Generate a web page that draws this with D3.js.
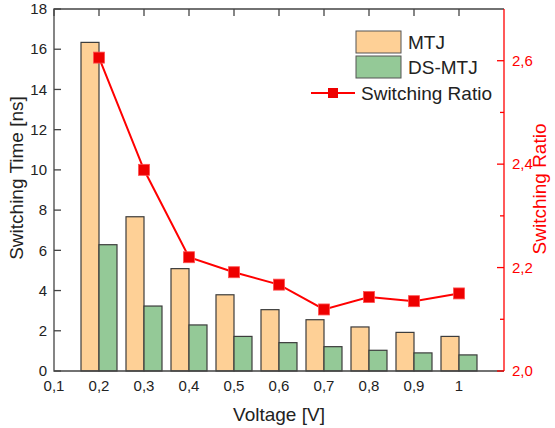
<!DOCTYPE html>
<html>
<head>
<meta charset="utf-8">
<script src="https://cdn.jsdelivr.net/npm/d3@7"></script>
<style>
  body { margin: 0; background: #fff; }
  text { font-family: "Liberation Sans", Arial, sans-serif; }
</style>
</head>
<body>
<svg id="chart" width="555" height="428"></svg>
<script>
// data
const voltages = [0.2, 0.3, 0.4, 0.5, 0.6, 0.7, 0.8, 0.9, 1.0]
const mtj = [16.34, 7.67, 5.09, 3.79, 3.05, 2.55, 2.19, 1.92, 1.72]
const dsMtj = [6.28, 3.23, 2.29, 1.72, 1.41, 1.21, 1.03, 0.90, 0.80]
const ratio = [2.606, 2.389, 2.220, 2.191, 2.167, 2.119, 2.143, 2.135, 2.150]
const xTicks = [0.1, 0.2, 0.3, 0.4, 0.5, 0.6, 0.7, 0.8, 0.9, 1.0]
const xTickLabels = ["0,1", "0,2", "0,3", "0,4", "0,5", "0,6", "0,7", "0,8", "0,9", "1"]
const leftTicks = [0, 2, 4, 6, 8, 10, 12, 14, 16, 18]
const rightTicks = [2.0, 2.2, 2.4, 2.6]
const rightMinor = [2.1, 2.3, 2.5]

const pLeft = 54, pRight = 504, pTop = 9, pBottom = 371
const axisCol = "#444", red = "#ff0000"

const svg = d3.select("#chart")
const x = d3.scaleLinear().domain([0.1, 1.1]).range([pLeft, pRight])
const y = d3.scaleLinear().domain([0, 18]).range([pBottom, pTop])
const y2 = d3.scaleLinear().domain([2.0, 2.7]).range([pBottom, pTop])
const halfW = 0.04

// bars
const g = svg.append("g")
g.selectAll("rect.mtj").data(voltages).join("rect")
    .attr("class", "mtj")
    .attr("x", d => x(d - halfW))
    .attr("width", d => x(d) - x(d - halfW))
    .attr("y", (d, i) => y(mtj[i]))
    .attr("height", (d, i) => y(0) - y(mtj[i]))
    .attr("fill", "#fed096").attr("stroke", "#3c3c3c").attr("stroke-width", 1.2)
g.selectAll("rect.ds").data(voltages).join("rect")
    .attr("class", "ds")
    .attr("x", d => x(d))
    .attr("width", d => x(d + halfW) - x(d))
    .attr("y", (d, i) => y(dsMtj[i]))
    .attr("height", (d, i) => y(0) - y(dsMtj[i]))
    .attr("fill", "#94c997").attr("stroke", "#3c3c3c").attr("stroke-width", 1.2)

// frame: left, bottom, top in dark grey
svg.append("path")
    .attr("d", `M${pRight},${pTop}H${pLeft}V${pBottom}H${pRight}`)
    .attr("fill", "none").attr("stroke", axisCol).attr("stroke-width", 1.3)

// left ticks + labels
svg.append("g").selectAll("line").data(leftTicks).join("line")
    .attr("x1", pLeft).attr("x2", pLeft + 7)
    .attr("y1", d => y(d)).attr("y2", d => y(d))
    .attr("stroke", axisCol).attr("stroke-width", 1.3)
svg.append("g").selectAll("text").data(leftTicks).join("text")
    .attr("x", 47).attr("y", d => y(d))
    .attr("dy", "0.35em").attr("text-anchor", "end")
    .attr("font-size", 15).attr("fill", "#222")
    .text(d => d)

// top ticks, bottom labels
svg.append("g").selectAll("line").data(xTicks).join("line")
    .attr("x1", d => x(d)).attr("x2", d => x(d))
    .attr("y1", pTop).attr("y2", pTop + 7)
    .attr("stroke", axisCol).attr("stroke-width", 1.3)
svg.append("g").selectAll("text").data(xTicks).join("text")
    .attr("x", d => x(d)).attr("y", 391)
    .attr("text-anchor", "middle")
    .attr("font-size", 15).attr("fill", "#222")
    .text((d, i) => xTickLabels[i])

// right axis (red)
svg.append("line")
    .attr("x1", pRight).attr("x2", pRight).attr("y1", pTop).attr("y2", pBottom)
    .attr("stroke", red).attr("stroke-width", 1.3)
svg.append("g").selectAll("line").data(rightTicks).join("line")
    .attr("x1", pRight - 7).attr("x2", pRight)
    .attr("y1", d => y2(d)).attr("y2", d => y2(d))
    .attr("stroke", red).attr("stroke-width", 1.3)
svg.append("g").selectAll("line").data(rightMinor).join("line")
    .attr("x1", pRight - 4).attr("x2", pRight)
    .attr("y1", d => y2(d)).attr("y2", d => y2(d))
    .attr("stroke", red).attr("stroke-width", 1.3)
svg.append("g").selectAll("text").data(rightTicks).join("text")
    .attr("x", 512).attr("y", d => y2(d))
    .attr("dy", "0.35em")
    .attr("font-size", 15).attr("fill", red)
    .text(d => d.toFixed(1).replace(".", ","))

// ratio line
const line = d3.line().x((d, i) => x(voltages[i])).y(d => y2(d))
svg.append("path").datum(ratio)
    .attr("d", line).attr("fill", "none")
    .attr("stroke", red).attr("stroke-width", 2)
svg.append("g").selectAll("rect").data(ratio).join("rect")
    .attr("x", (d, i) => x(voltages[i]) - 5.5)
    .attr("y", d => y2(d) - 5.5)
    .attr("width", 11).attr("height", 11)
    .attr("fill", "#ee0000").attr("stroke", "#ff5050").attr("stroke-width", 0.8)

// axis titles
svg.append("text")
    .attr("x", 279).attr("y", 421)
    .attr("text-anchor", "middle").attr("font-size", 19).attr("fill", "#222")
    .text("Voltage [V]")
svg.append("text")
    .attr("transform", "translate(23,178) rotate(-90)")
    .attr("text-anchor", "middle").attr("font-size", 19).attr("fill", "#222")
    .text("Switching Time [ns]")
svg.append("text")
    .attr("transform", "translate(546,189) rotate(-90)")
    .attr("text-anchor", "middle").attr("font-size", 19).attr("fill", red)
    .text("Switching Ratio")

// legend
const leg = svg.append("g")
leg.append("rect").attr("x", 356).attr("y", 31).attr("width", 45).attr("height", 22)
    .attr("fill", "#fed096").attr("stroke", "#555").attr("stroke-width", 1)
leg.append("rect").attr("x", 356).attr("y", 56).attr("width", 45).attr("height", 22)
    .attr("fill", "#94c997").attr("stroke", "#555").attr("stroke-width", 1)
leg.append("text").attr("x", 408).attr("y", 42).attr("dy", "0.35em")
    .attr("font-size", 19).attr("fill", "#222").text("MTJ")
leg.append("text").attr("x", 408).attr("y", 67).attr("dy", "0.35em")
    .attr("font-size", 19).attr("fill", "#222").text("DS-MTJ")
leg.append("line").attr("x1", 311).attr("x2", 355).attr("y1", 93).attr("y2", 93)
    .attr("stroke", red).attr("stroke-width", 2)
leg.append("rect").attr("x", 328).attr("y", 88).attr("width", 10).attr("height", 10)
    .attr("fill", "#ee0000")
leg.append("text").attr("x", 361).attr("y", 93).attr("dy", "0.35em")
    .attr("font-size", 19).attr("fill", "#222").text("Switching Ratio")
</script>
</body>
</html>
